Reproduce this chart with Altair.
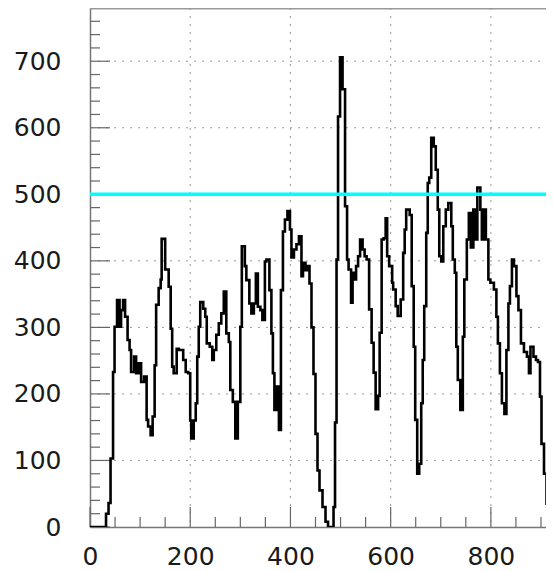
import altair as alt
import pandas as pd

# Histogram (step): left edge of each step and its count
bin_left = [0, 32, 37, 41, 46, 49, 54, 59, 62, 66, 70, 75, 79, 82, 88, 92, 97, 102, 108, 113,
            116, 121, 125, 129, 132, 137, 141, 143, 150, 157, 161, 164, 167, 173, 177, 186, 191, 196,
            200, 202, 207, 211, 214, 217, 220, 226, 230, 233, 239, 244, 247, 252, 257, 262, 267, 272,
            277, 280, 285, 290, 295, 300, 303, 309, 312, 318, 322, 327, 331, 335, 340, 344, 349, 352,
            358, 362, 365, 368, 372, 377, 381, 385, 389, 394, 399, 402, 407, 412, 417, 422, 425, 430,
            435, 438, 442, 446, 450, 454, 458, 464, 470, 475, 486, 489, 492, 495, 499, 504, 509, 513,
            516, 521, 524, 528, 531, 535, 539, 544, 548, 552, 557, 562, 566, 570, 575, 578, 582, 586,
            590, 593, 597, 603, 605, 610, 614, 620, 625, 628, 631, 638, 642, 646, 649, 653, 657, 661,
            664, 667, 671, 674, 677, 681, 686, 690, 694, 697, 701, 705, 710, 715, 721, 724, 728, 731,
            734, 739, 744, 747, 752, 756, 760, 765, 770, 773, 779, 782, 786, 790, 795, 799, 806, 811,
            814, 818, 822, 827, 831, 835, 838, 842, 846, 851, 855, 860, 866, 872, 876, 879, 885, 890,
            894, 898, 901, 906, 911, 915, 920]
counts = [0, 20, 36, 103, 233, 301, 341, 301, 326, 341, 316, 281, 266, 233, 256, 231, 246, 218, 226, 161,
          151, 138, 166, 243, 334, 359, 372, 433, 387, 361, 298, 241, 231, 268, 266, 251, 233, 231,
          160, 133, 160, 186, 256, 301, 338, 328, 316, 276, 271, 251, 266, 289, 306, 321, 354, 291,
          278, 206, 188, 133, 188, 301, 422, 392, 371, 336, 321, 336, 381, 331, 326, 311, 399, 402,
          356, 291, 231, 176, 211, 146, 356, 444, 462, 475, 447, 405, 417, 425, 437, 377, 397, 386,
          392, 366, 300, 230, 140, 85, 55, 30, 8, 0, 30, 157, 402, 617, 706, 658, 482, 402,
          387, 337, 382, 372, 392, 407, 432, 417, 407, 402, 327, 277, 232, 177, 197, 292, 432, 434,
          464, 407, 392, 367, 357, 332, 317, 342, 412, 447, 477, 469, 362, 271, 161, 80, 95, 186,
          251, 332, 442, 517, 525, 585, 572, 537, 477, 407, 399, 452, 477, 487, 452, 402, 382, 271,
          221, 176, 286, 372, 432, 472, 420, 477, 432, 510, 477, 432, 477, 432, 372, 367, 357, 316,
          276, 231, 186, 170, 266, 336, 362, 402, 392, 347, 326, 276, 263, 256, 231, 271, 256, 251,
          248, 196, 125, 80, 35, 15, 3]
x_end = 924

x_major = [0, 200, 400, 600, 800]
x_minor = [50, 100, 150, 250, 300, 350, 450, 500, 550, 650, 700, 750, 850, 900]
y_major = [0, 100, 200, 300, 400, 500, 600, 700]
y_minor = [v for v in range(20, 781, 20) if v % 100]
threshold = [500]

W, H = 456, 519
FONT = "DejaVu Sans"

xs = alt.Scale(domain=[0, 910], nice=False, zero=False)
ys = alt.Scale(domain=[0, 780], nice=False)

xaxis = alt.Axis(values=x_major, title=None, ticks=False, tickSize=0, grid=False,
                 labelPadding=17, domainColor="#777777", domainWidth=1.5,
                 labelFont=FONT, labelFontSize=25, labelColor="#1a1a1a",
                 labelFlush=False, labelOverlap=False, format="d")
yaxis = alt.Axis(values=y_major, title=None, ticks=False, tickSize=0, grid=False,
                 labelPadding=29, domainColor="#777777", domainWidth=1.5,
                 labelFont=FONT, labelFontSize=25, labelColor="#1a1a1a",
                 labelOverlap=False, format="d")

X = lambda f: alt.X(f, scale=xs, axis=xaxis)
Y = lambda f: alt.Y(f, scale=ys, axis=yaxis)

line_df = pd.DataFrame({"x": bin_left + [x_end], "n": counts + [0]})

grid_x = alt.Chart(pd.DataFrame({"g": x_major[1:]})).mark_rule(
    color="#9a9a9a", strokeDash=[2, 6], strokeWidth=1
).encode(x=X("g:Q"), y=alt.value(0), y2=alt.value(H))

grid_y = alt.Chart(pd.DataFrame({"g": y_major[1:]})).mark_rule(
    color="#9a9a9a", strokeDash=[2, 6], strokeWidth=1
).encode(y=Y("g:Q"), x=alt.value(0), x2=alt.value(W))

tick_xM = alt.Chart(pd.DataFrame({"t": x_major})).mark_rule(color="#666666", strokeWidth=1.2).encode(
    x=X("t:Q"), y=alt.value(H), y2=alt.value(H - 20))
tick_xm = alt.Chart(pd.DataFrame({"t": x_minor})).mark_rule(color="#666666", strokeWidth=1.2).encode(
    x=X("t:Q"), y=alt.value(H), y2=alt.value(H - 10))
tick_yM = alt.Chart(pd.DataFrame({"t": y_major})).mark_rule(color="#666666", strokeWidth=1.2).encode(
    y=Y("t:Q"), x=alt.value(0), x2=alt.value(20))
tick_ym = alt.Chart(pd.DataFrame({"t": y_minor})).mark_rule(color="#666666", strokeWidth=1.2).encode(
    y=Y("t:Q"), x=alt.value(0), x2=alt.value(10))

hist = alt.Chart(line_df).mark_line(interpolate="step-after", color="black", strokeWidth=2.6,
                                    clip=True).encode(x=X("x:Q"), y=Y("n:Q"))

cyan = alt.Chart(pd.DataFrame({"c": threshold})).mark_rule(color="#00ffff", strokeWidth=3.5).encode(
    y=Y("c:Q"), x=alt.value(0), x2=alt.value(W))

top = alt.Chart(pd.DataFrame({"a": [0]})).mark_rule(color="#999999", strokeWidth=1.5).encode(
    y=alt.value(0.75), x=alt.value(0), x2=alt.value(W))

chart = alt.layer(grid_x, grid_y, tick_xm, tick_xM, tick_ym, tick_yM, hist, cyan, top).properties(
    width=W, height=H,
    autosize=alt.AutoSizeParams(type="none"),
    padding={"left": 82, "top": 0, "right": 0, "bottom": 48},
    background="white",
).configure_view(stroke=None)

chart.save("out.html", embed_options={"renderer": "svg", "actions": False})
